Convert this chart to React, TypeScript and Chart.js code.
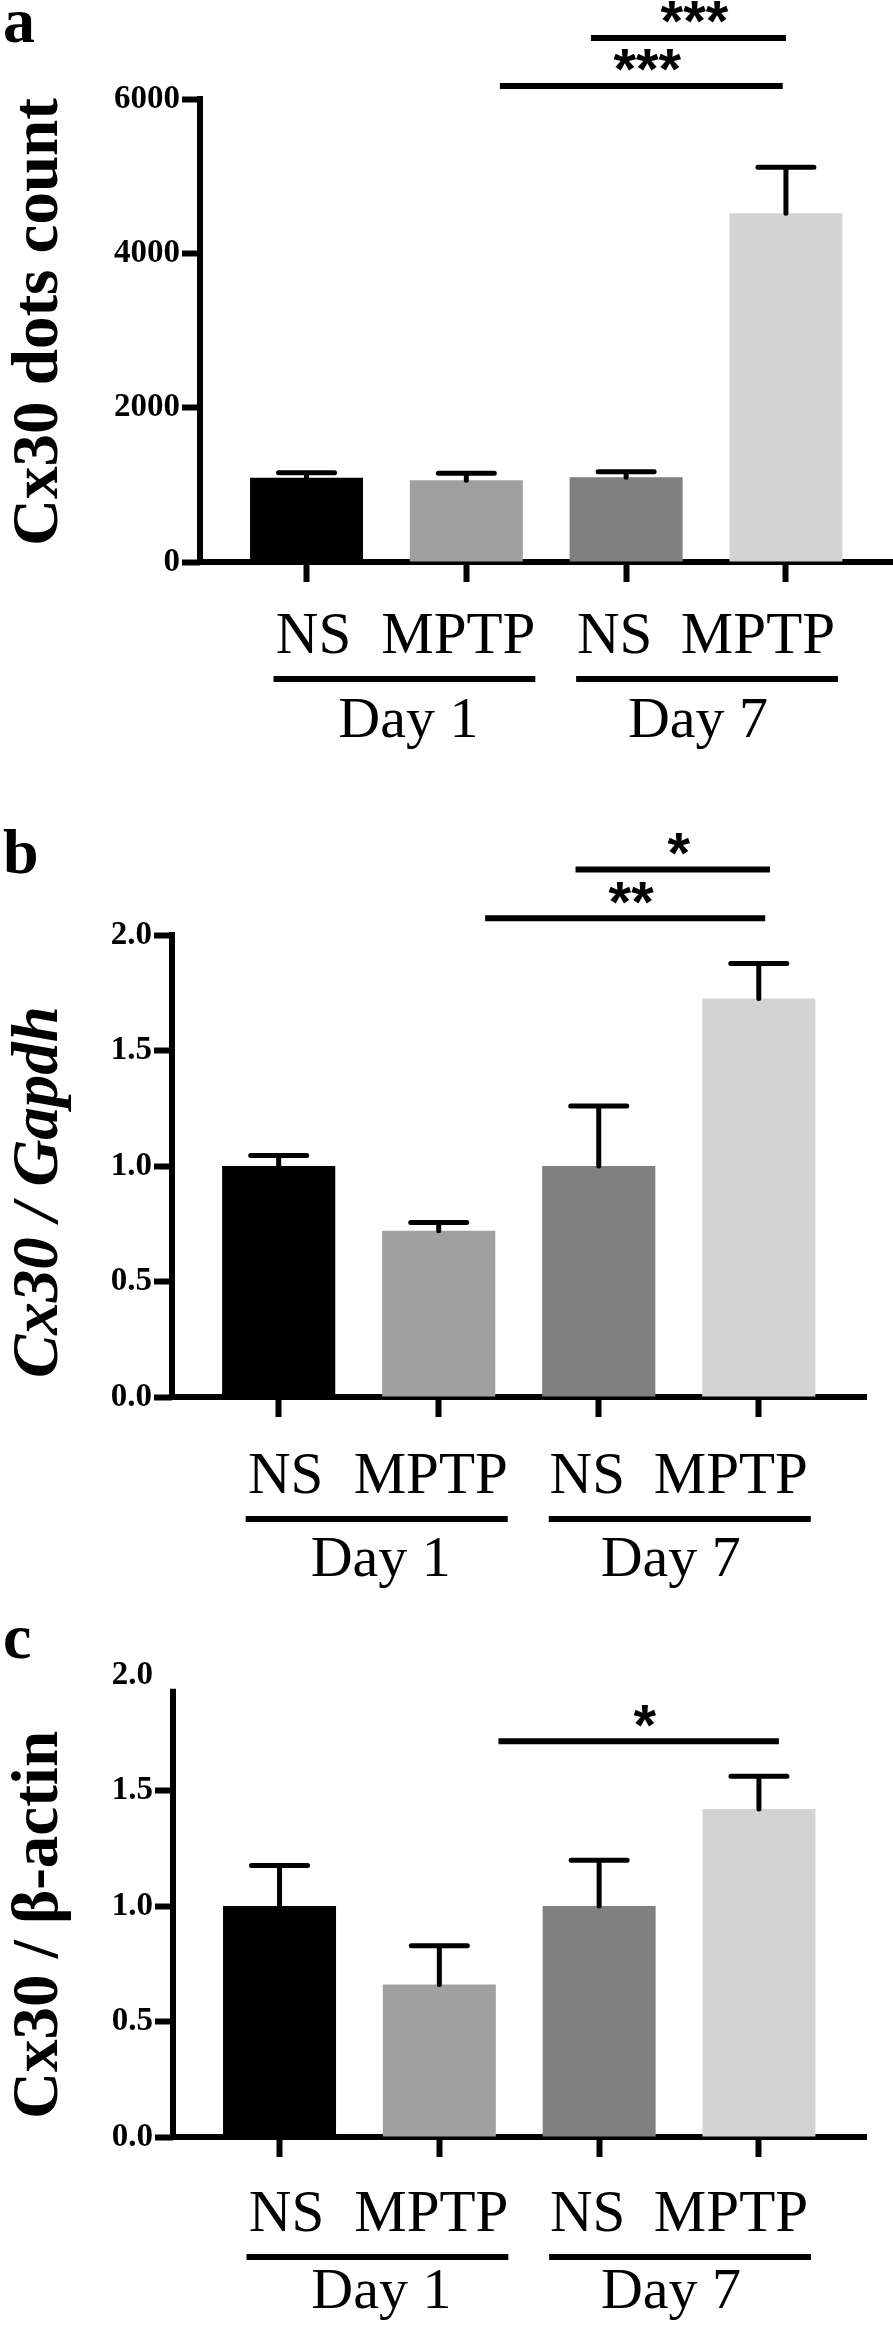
import React, { useEffect, useRef } from "react";
import { Chart, registerables } from "chart.js";

Chart.register(...registerables);

// ---------- data ----------
const categories = ["NS", "MPTP", "NS", "MPTP"];
const groupLabels = ["Day 1", "Day 7"];
const groupMembers = [
  [0, 1],
  [2, 3],
];
const barColors = ["#000000", "#a0a0a0", "#808080", "#d3d3d3"];

// panel a: Cx30 dots count
const dotsMean = [1092, 1059, 1098, 4519];
const dotsSem = [65, 90, 72, 596];
const dotsTicks = [0, 2000, 4000, 6000];
const dotsSig = [
  { from: 2.21, to: 3.98, y: 6170, text: "***" },
  { from: 2.78, to: 4.0, y: 6792, text: "***" },
];

// panel b: Cx30 / Gapdh
const gapdhMean = [1.0, 0.72, 1.0, 1.725];
const gapdhSem = [0.045, 0.035, 0.26, 0.152];
const gapdhSig = [
  { from: 2.29, to: 4.04, y: 2.072, text: "**" },
  { from: 2.855, to: 4.07, y: 2.284, text: "*" },
];

// panel c: Cx30 / beta-actin
const actinMean = [1.0, 0.66, 1.0, 1.42];
const actinSem = [0.175, 0.168, 0.198, 0.142];
const actinSig = [{ from: 2.37, to: 4.125, y: 1.713, text: "*" }];

const ratioTicks = [0, 0.5, 1.0, 1.5, 2.0];

// ---------- styles / layout ----------
const SERIF = "'Liberation Serif', 'Times New Roman', Times, serif";
const SANS = "'Liberation Sans', Arial, sans-serif";
const W = 893;
const wordShift = [7, -8, -11.5, -28];
const lineShift = [
  [-33, 69],
  [-50, 52],
];
const dayShift = [22, -8];

type Sig = { from: number; to: number; y: number; text: string };
type Panel = {
  letter: string;
  title: string;
  titleFont: string;
  mean: number[];
  sem: number[];
  ticks: number[];
  max: number;
  axisTop: number;
  fmt: (v: number) => string;
  sig: Sig[];
  top: number;
  height: number;
  left: number;
  right: number;
  chartTop: number;
  chartBottom: number;
  titleShift: number;
  letterY: number;
  wordY: number;
  lineY: number;
  dayY: number;
};

const panels: Panel[] = [
  {
    letter: "a",
    title: "Cx30 dots count",
    titleFont: `bold 65px ${SERIF}`,
    mean: dotsMean,
    sem: dotsSem,
    ticks: dotsTicks,
    max: 6000,
    axisTop: 6000,
    fmt: (v) => String(v),
    sig: dotsSig,
    top: 0,
    height: 770,
    left: 200,
    right: 893,
    chartTop: 99,
    chartBottom: 562,
    titleShift: -8.5,
    letterY: 42,
    wordY: 91,
    lineY: 117,
    dayY: 175,
  },
  {
    letter: "b",
    title: "Cx30 / Gapdh",
    titleFont: `italic bold 65px ${SERIF}`,
    mean: gapdhMean,
    sem: gapdhSem,
    ticks: ratioTicks,
    max: 2,
    axisTop: 2,
    fmt: (v) => v.toFixed(1),
    sig: gapdhSig,
    top: 770,
    height: 830,
    left: 172,
    right: 866,
    chartTop: 165,
    chartBottom: 627,
    titleShift: 26,
    letterY: 103,
    wordY: 96,
    lineY: 122,
    dayY: 179,
  },
  {
    letter: "c",
    title: "Cx30 / \u03b2-actin",
    titleFont: `bold 65px ${SERIF}`,
    mean: actinMean,
    sem: actinSem,
    ticks: ratioTicks,
    max: 2,
    axisTop: 1.94,
    fmt: (v) => v.toFixed(1),
    sig: actinSig,
    top: 1600,
    height: 728,
    left: 173,
    right: 866,
    chartTop: 75,
    chartBottom: 537,
    titleShift: 19,
    letterY: 58,
    wordY: 94,
    lineY: 120,
    dayY: 171,
  },
];

function annotations(p: Panel) {
  return {
    id: "annot_" + p.letter,
    afterDraw(chart: any) {
      const { ctx, chartArea, scales } = chart;
      const xs = scales.x;
      const ys = scales.y;
      const bx = (i: number) => xs.getPixelForValue(i + 1);
      ctx.save();
      ctx.fillStyle = "#000";
      ctx.strokeStyle = "#000";

      // y axis line
      ctx.lineWidth = 6;
      ctx.lineCap = "butt";
      const yTop = ys.getPixelForValue(p.axisTop) - (p.axisTop >= p.max ? 3 : 0);
      ctx.beginPath();
      ctx.moveTo(chartArea.left, yTop);
      ctx.lineTo(chartArea.left, chartArea.bottom + 3);
      ctx.stroke();

      // error bars (upper)
      ctx.lineWidth = 5;
      ctx.lineCap = "round";
      p.mean.forEach((m, i) => {
        const x = bx(i);
        const y0 = ys.getPixelForValue(m);
        const y1 = ys.getPixelForValue(m + p.sem[i]);
        ctx.beginPath();
        ctx.moveTo(x, y0);
        ctx.lineTo(x, y1);
        ctx.moveTo(x - 28, y1);
        ctx.lineTo(x + 28, y1);
        ctx.stroke();
      });

      // significance brackets
      ctx.lineCap = "butt";
      ctx.lineWidth = 6;
      ctx.font = `bold 58px ${SANS}`;
      ctx.textAlign = "center";
      ctx.textBaseline = "alphabetic";
      p.sig.forEach((s) => {
        const x0 = xs.getPixelForValue(s.from);
        const x1 = xs.getPixelForValue(s.to);
        const y = ys.getPixelForValue(s.y);
        ctx.beginPath();
        ctx.moveTo(x0, y);
        ctx.lineTo(x1, y);
        ctx.stroke();
        const mt = ctx.measureText(s.text);
        const cy = y - 25.5;
        const base = cy + (mt.actualBoundingBoxAscent - mt.actualBoundingBoxDescent) / 2;
        ctx.fillText(s.text, (x0 + x1) / 2 + 6, base);
      });

      // category labels
      ctx.font = `59px ${SERIF}`;
      ctx.textAlign = "center";
      categories.forEach((c, i) => {
        ctx.fillText(c, bx(i) + wordShift[i], chartArea.bottom + p.wordY);
      });

      // group underlines and labels
      groupMembers.forEach((g, k) => {
        const xa = bx(g[0]);
        const xb = bx(g[1]);
        const y = chartArea.bottom + p.lineY;
        ctx.beginPath();
        ctx.moveTo(xa + lineShift[k][0], y);
        ctx.lineTo(xb + lineShift[k][1], y);
        ctx.stroke();
        ctx.font = `58px ${SERIF}`;
        ctx.fillText(groupLabels[k], (xa + xb) / 2 + dayShift[k], chartArea.bottom + p.dayY);
      });

      // y title
      ctx.save();
      ctx.font = p.titleFont;
      ctx.translate(57, (chartArea.top + chartArea.bottom) / 2 + p.titleShift);
      ctx.rotate(-Math.PI / 2);
      ctx.textAlign = "center";
      ctx.fillText(p.title, 0, 0);
      ctx.restore();

      // panel letter
      ctx.font = `bold 64px ${SERIF}`;
      ctx.textAlign = "left";
      ctx.fillText(p.letter, 3, p.letterY);
      ctx.restore();
    },
  };
}

function makeChart(canvas: HTMLCanvasElement, p: Panel) {
  return new Chart(canvas, {
    type: "bar",
    data: {
      datasets: [
        {
          data: p.mean.map((v, i) => ({ x: i + 1, y: v })),
          backgroundColor: barColors,
          borderWidth: 0,
          barPercentage: 0.707,
          categoryPercentage: 1,
        },
      ],
    },
    options: {
      animation: false,
      responsive: false,
      maintainAspectRatio: false,
      layout: { padding: { top: p.chartTop, left: 0, right: W - p.right, bottom: 0 } },
      plugins: { legend: { display: false }, tooltip: { enabled: false } },
      scales: {
        x: {
          type: "linear",
          min: 1 / 3,
          max: 4.67,
          offset: false,
          afterBuildTicks: (s: any) => {
            s.ticks = categories.map((_, i) => ({ value: i + 1 }));
          },
          afterFit: (s: any) => {
            s.height = p.height - p.chartBottom;
          },
          ticks: { display: false },
          grid: {
            display: true,
            offset: false,
            drawOnChartArea: false,
            drawTicks: true,
            tickLength: 20,
            tickWidth: 6,
            tickColor: "#000",
          },
          border: { display: true, width: 6, color: "#000" },
        },
        y: {
          type: "linear",
          min: 0,
          max: p.max,
          afterBuildTicks: (s: any) => {
            s.ticks = p.ticks.map((v) => ({ value: v }));
          },
          afterFit: (s: any) => {
            s.width = p.left;
          },
          ticks: {
            callback: (v: any) => p.fmt(Number(v)),
            font: { family: SERIF, size: 33, weight: "bold" },
            color: "#000",
            padding: 2,
          },
          grid: {
            display: true,
            drawOnChartArea: false,
            drawTicks: true,
            tickLength: 18,
            tickWidth: 6,
            tickColor: (ctx: any) =>
              ctx.tick && ctx.tick.value > p.axisTop ? "rgba(0,0,0,0)" : "#000",
          },
          border: { display: false },
        },
      },
    } as any,
    plugins: [annotations(p)],
  });
}

export default function App() {
  const refs = useRef<(HTMLCanvasElement | null)[]>([]);
  useEffect(() => {
    const charts = panels.map((p, k) => makeChart(refs.current[k] as HTMLCanvasElement, p));
    return () => charts.forEach((c) => c.destroy());
  }, []);
  return (
    <div style={{ position: "absolute", left: 0, top: 0, width: W, height: 2328, background: "#fff" }}>
      {panels.map((p, k) => (
        <canvas
          key={k}
          ref={(el) => {
            refs.current[k] = el;
          }}
          width={W}
          height={p.height}
          style={{ position: "absolute", left: 0, top: p.top, width: W, height: p.height }}
        />
      ))}
    </div>
  );
}
